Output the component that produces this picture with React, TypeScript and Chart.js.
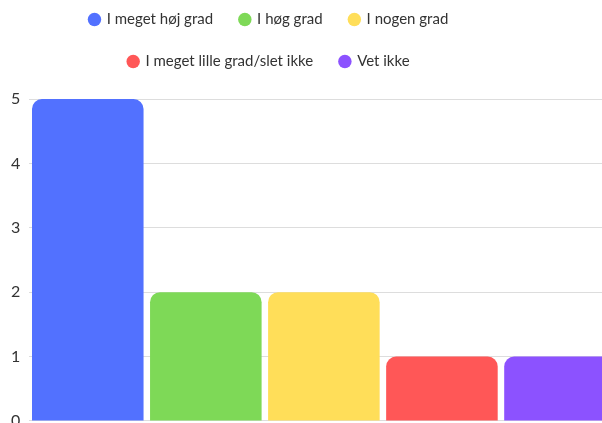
import React, { useEffect, useRef } from "react";
import { Chart, registerables } from "chart.js";

Chart.register(...registerables);

const categories = [
  "I meget høj grad",
  "I høg grad",
  "I nogen grad",
  "I meget lille grad/slet ikke",
  "Vet ikke",
];
const values = [5, 2, 2, 1, 1];
const colors = ["#5271FF", "#7ED957", "#FFDE59", "#FF5757", "#8C52FF"];
const yTicks = [0, 1, 2, 3, 4, 5];

const CANVAS_W = 619;
const CANVAS_H = 454;
const CANVAS_TOP = -15;
const LEGEND_EXTRA = 20;
const LEGEND_WIDTH = 538;
const FONT = "Lato, 'Open Sans', sans-serif";

export default function App() {
  const ref = useRef<HTMLCanvasElement | null>(null);

  useEffect(() => {
    if (!ref.current) return;
    const legendTweak = {
      id: "legendTweak",
      beforeInit(chart: any) {
        const lg = chart.legend;
        if (lg) {
          const orig = lg.fit;
          lg.fit = function () {
            this.maxWidth = Math.min(this.maxWidth, LEGEND_WIDTH);
            orig.call(this);
            this.height += LEGEND_EXTRA;
          };
        }
      },
      afterLayout(chart: any) {
        const lg = chart.legend;
        if (lg) {
          lg.right = lg.left + LEGEND_WIDTH;
          lg.width = LEGEND_WIDTH;
        }
      },
    };

    const datasets = categories.map((c, i) => ({
      label: c,
      data: categories.map((_, j) => (j === i ? values[i] : null)),
      backgroundColor: colors[i],
      borderWidth: 0,
      borderRadius: { topLeft: 10, topRight: 10, bottomLeft: 0, bottomRight: 0 },
      borderSkipped: false as any,
      grouped: false,
      categoryPercentage: 1,
      barPercentage: 0.945,
    }));

    const chart = new Chart(ref.current, {
      type: "bar",
      data: { labels: categories, datasets },
      plugins: [legendTweak],
      options: {
        responsive: false,
        animation: false,
        maintainAspectRatio: false,
        layout: { padding: 0 },
        plugins: {
          legend: {
            position: "top",
            labels: {
              usePointStyle: true,
              pointStyle: "circle",
              boxWidth: 9.5,
              boxHeight: 9.5,
              padding: 27,
              color: "#333333",
              font: { family: FONT, size: 15 },
            },
          },
          tooltip: { enabled: false },
        },
        scales: {
          x: {
            display: false,
          },
          y: {
            min: 0,
            max: 5,
            afterFit(scale: any) {
              scale.width = 28.75;
            },
            afterBuildTicks(scale: any) {
              scale.ticks = yTicks.map((v) => ({ value: v }));
            },
            border: { display: false },
            grid: { color: "#dddddd", lineWidth: 1, drawTicks: false },
            ticks: {
              padding: 8.5,
              color: "#333333",
              font: { family: FONT, size: 16 },
            },
          },
        },
      },
    });
    return () => chart.destroy();
  }, []);

  return (
    <div
      style={{
        position: "fixed",
        left: 0,
        top: 0,
        width: 602,
        height: 423,
        overflow: "hidden",
        background: "#ffffff",
      }}
    >
      <canvas
        ref={ref}
        width={CANVAS_W}
        height={CANVAS_H}
        style={{
          position: "absolute",
          left: 0,
          top: CANVAS_TOP,
          width: CANVAS_W,
          height: CANVAS_H,
        }}
      />
    </div>
  );
}
